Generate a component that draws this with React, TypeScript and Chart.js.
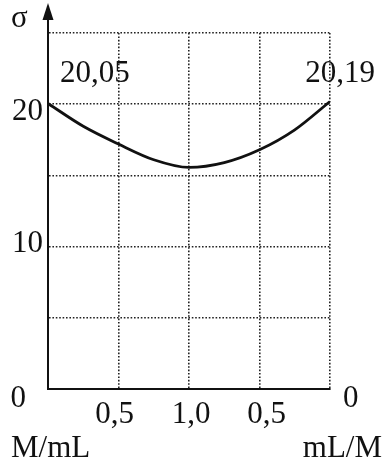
import React, { useEffect, useRef } from "react";
import { Chart, registerables } from "chart.js";

Chart.register(...registerables);

// Composition axis: 0 … 1,0 (M/mL) … back to 0 (mL/M), drawn on a 0–2 scale
const compositionX = [0, 0.25, 0.5, 0.75, 1.0, 1.25, 1.5, 1.75, 2.0];
const sigmaValues = [20.05, 18.45, 17.2, 16.1, 15.56, 15.9, 16.8, 18.2, 20.19];

const xTickValues = [0.5, 1.0, 1.5];
const xTickLabels = ["0,5", "1,0", "0,5"];
const yTickValues = [20, 10, 0];
const yTickLabels = ["20", "10", "0"];

const endLabels = ["20,05", "20,19"];
const axisName = "σ";
const leftUnit = "M/mL";
const rightUnit = "mL/M";
const rightZero = "0";

const FONT = "31px 'Liberation Serif', 'DejaVu Serif', serif";

const annotations = {
  id: "annotations",
  afterDraw(chart: Chart) {
    const { ctx, chartArea } = chart;
    const xs = chart.scales.x;
    const ys = chart.scales.y;
    const x0 = xs.getPixelForValue(0);
    const y0 = ys.getPixelForValue(0);

    ctx.save();
    ctx.fillStyle = "#111";
    ctx.strokeStyle = "#111";

    // vertical axis extended up to an arrow head
    ctx.lineWidth = 2;
    ctx.beginPath();
    ctx.moveTo(x0, y0);
    ctx.lineTo(x0, 16);
    ctx.stroke();
    ctx.beginPath();
    ctx.moveTo(x0, 3);
    ctx.lineTo(x0 - 5.5, 20);
    ctx.lineTo(x0 + 5.5, 20);
    ctx.closePath();
    ctx.fill();

    ctx.font = FONT;

    // axis name
    ctx.textAlign = "left";
    ctx.textBaseline = "alphabetic";
    ctx.fillText(axisName, 11, 27);

    // left value ticks
    const yShift: Record<string, number> = { "20": 16, "10": 5, "0": 18 };
    ctx.textAlign = "right";
    yTickValues.forEach((v, i) => {
      const lbl = yTickLabels[i];
      const px = v === 0 ? x0 - 22 : x0 - 5;
      ctx.fillText(lbl, px, ys.getPixelForValue(v) + yShift[lbl]);
    });

    // right-hand zero
    ctx.textAlign = "left";
    ctx.fillText(rightZero, xs.getPixelForValue(2) + 13, y0 + 18);

    // composition ticks under the axis
    const xShift = [-4, 2, 7];
    ctx.textAlign = "center";
    xTickValues.forEach((v, i) => {
      ctx.fillText(xTickLabels[i], xs.getPixelForValue(v) + xShift[i], y0 + 34);
    });

    // end-point values
    ctx.textAlign = "left";
    ctx.fillText(endLabels[0], x0 + 12, 82);
    ctx.textAlign = "right";
    ctx.fillText(endLabels[1], chartArea.right + 45, 82);

    // component ratio names
    ctx.textAlign = "left";
    ctx.fillText(leftUnit, 11, 457);
    ctx.textAlign = "right";
    ctx.fillText(rightUnit, 382, 457);

    ctx.restore();
  },
};

const whiteBackground = {
  id: "whiteBackground",
  beforeDraw(chart: Chart) {
    const { ctx, width, height } = chart;
    ctx.save();
    ctx.fillStyle = "#ffffff";
    ctx.fillRect(0, 0, width, height);
    ctx.restore();
  },
};

export default function App() {
  const canvasRef = useRef<HTMLCanvasElement | null>(null);

  useEffect(() => {
    if (!canvasRef.current) return;
    const gridColor = (ctx: any) =>
      ctx.tick && ctx.tick.value === 0 ? "rgba(0,0,0,0)" : "#222";

    const chart = new Chart(canvasRef.current, {
      type: "line",
      data: {
        datasets: [
          {
            data: compositionX.map((x, i) => ({ x, y: sigmaValues[i] })),
            borderColor: "#111",
            borderWidth: 2.8,
            pointRadius: 0,
            fill: false,
            cubicInterpolationMode: "monotone",
          },
        ],
      },
      options: {
        responsive: false,
        animation: false,
        events: [],
        layout: { padding: { left: 48, right: 53, top: 33, bottom: 79 } },
        plugins: {
          legend: { display: false },
          tooltip: { enabled: false },
        },
        scales: {
          x: {
            type: "linear",
            min: 0,
            max: 2,
            ticks: { display: false, stepSize: 0.5 },
            grid: { color: gridColor, lineWidth: 1.6, drawTicks: false },
            border: { display: true, color: "#111", width: 2, dash: [1.6, 1.8] },
          },
          y: {
            type: "linear",
            min: 0,
            max: 25,
            ticks: { display: false, stepSize: 5 },
            grid: { color: gridColor, lineWidth: 1.6, drawTicks: false },
            border: { display: true, color: "#111", width: 2, dash: [1.6, 1.8] },
          },
        },
      },
      plugins: [whiteBackground, annotations],
    });
    return () => chart.destroy();
  }, []);

  return (
    <div style={{ position: "absolute", left: 0, top: 0, width: 383, height: 468 }}>
      <canvas ref={canvasRef} width={383} height={468} />
    </div>
  );
}
